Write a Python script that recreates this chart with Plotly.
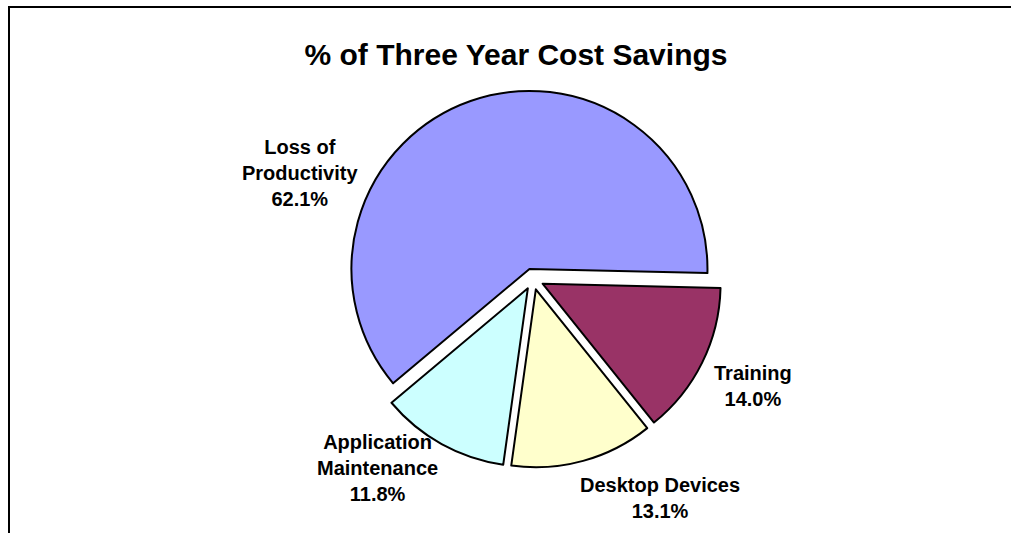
import plotly.graph_objects as go

categories = ["Loss of Productivity", "Training", "Desktop Devices", "Application Maintenance"]
values = [62.1, 14.0, 13.1, 11.8]
label_text = ["Loss of<br>Productivity<br>62.1%", "Training<br>14.0%",
              "Desktop Devices<br>13.1%", "Application<br>Maintenance<br>11.8%"]
colors = ["#9999FF", "#993366", "#FFFFCC", "#CCFFFF"]

W, H = 1011, 533
font_family = "Liberation Sans, Arial, sans-serif"

# pie placement
cx, cy, r, pull = 533, 279, 178, 0.06
box = 2 * r * (1 + pull)
dom_x = [(cx - box / 2 - 10) / W, (cx + box / 2 + 10) / W]
dom_y = [1 - (cy + box / 2) / H, 1 - (cy - box / 2) / H]

fig = go.Figure(go.Pie(
    labels=categories,
    values=values,
    sort=False,
    direction="clockwise",
    rotation=-130,
    pull=[pull] * len(values),
    marker=dict(colors=colors, line=dict(color="#000000", width=2)),
    textinfo="none",
    hoverinfo="label+percent",
    domain=dict(x=dom_x, y=dom_y),
    showlegend=False,
))

# label positions (pixels, centre of text block)
label_pos = [(300, 173), (753, 386), (660, 498), (377, 468)]
annotations = []
for txt, (lx, ly) in zip(label_text, label_pos):
    annotations.append(dict(
        text="<b>" + txt + "</b>", x=lx / W, y=1 - ly / H, xref="paper", yref="paper",
        xanchor="center", yanchor="middle", showarrow=False, align="center",
        font=dict(family=font_family, size=20, color="#000000"),
    ))

fig.update_layout(
    width=W, height=H,
    margin=dict(l=0, r=0, t=0, b=0),
    paper_bgcolor="#FFFFFF",
    plot_bgcolor="#FFFFFF",
    title=dict(text="<b>% of Three Year Cost Savings</b>", x=516 / W, y=1 - 54 / H,
               xanchor="center", yanchor="middle", xref="paper", yref="paper",
               font=dict(family=font_family, size=30, color="#000000")),
    annotations=annotations,
    shapes=[
        dict(type="line", xref="paper", yref="paper", x0=8 / W, x1=1.02, y0=1 - 7 / H, y1=1 - 7 / H,
             line=dict(color="#000000", width=2)),
        dict(type="line", xref="paper", yref="paper", x0=9 / W, x1=9 / W, y0=1 - 6 / H, y1=-0.02,
             line=dict(color="#000000", width=2)),
    ],
)

fig.write_html("out.html")
